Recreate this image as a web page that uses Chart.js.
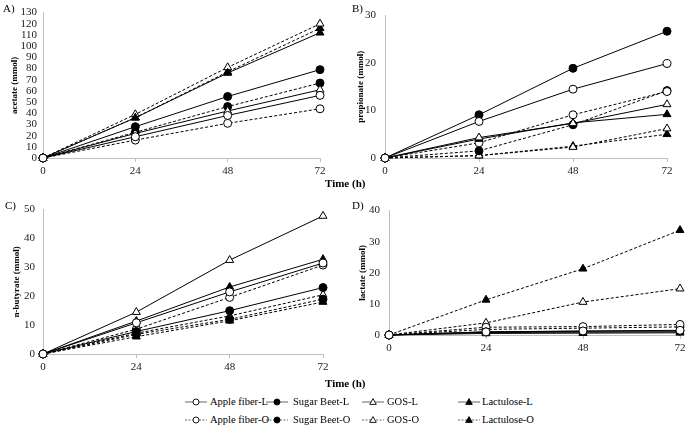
<!DOCTYPE html>
<html><head><meta charset="utf-8">
<script src="https://cdn.jsdelivr.net/npm/chart.js@4.4.1/dist/chart.umd.min.js"></script>
<style>
body{margin:0;background:#fff;width:689px;height:438px;position:relative;overflow:hidden;font-family:"Liberation Serif","Times New Roman",serif;color:#000;}
canvas{position:absolute;}
.lbl{position:absolute;font-size:11px;white-space:nowrap;line-height:11px;}
.tt{font-weight:bold;}
.leg{position:absolute;font-size:10.5px;white-space:nowrap;line-height:12px;}
svg{position:absolute;overflow:visible;}
</style></head><body>
<canvas id="cA" width="340" height="180" style="left:0;top:0"></canvas>
<canvas id="cB" width="334" height="180" style="left:355px;top:0"></canvas>
<canvas id="cC" width="340" height="180" style="left:0;top:195px"></canvas>
<canvas id="cD" width="334" height="160" style="left:355px;top:195px"></canvas>
<div class="lbl" style="left:3px;top:3px">A)</div>
<div class="lbl" style="left:352px;top:3px">B)</div>
<div class="lbl" style="left:5px;top:200px">C)</div>
<div class="lbl" style="left:352px;top:200px">D)</div>
<div class="lbl tt" style="left:325px;top:178px">Time (h)</div>
<div class="lbl tt" style="left:325px;top:378px">Time (h)</div>
<div id="legend"></div>
<script>
// ---- data ----
const times = [0, 24, 48, 72];
const seriesNames = ['Apple fiber-L','Sugar Beet-L','GOS-L','Lactulose-L','Apple fiber-O','Sugar Beet-O','GOS-O','Lactulose-O'];

// A) acetate (mmol)
const acetateAppleL   = [0, 19, 38, 56];
const acetateBeetL    = [0, 28, 55, 79];
const acetateGosL     = [0, 22, 42, 61];
const acetateLactL    = [0, 36, 76, 112];
const acetateAppleO   = [0, 16, 31, 44];
const acetateBeetO    = [0, 23, 46, 67];
const acetateGosO     = [0, 39, 81, 120];
const acetateLactO    = [0, 36, 77, 116];

// B) propionate (mmol)
const propAppleL = [0, 7.7, 14.5, 19.9];
const propBeetL  = [0, 9.1, 18.9, 26.7];
const propGosL   = [0, 4.3, 7.3, 11.3];
const propLactL  = [0, 4.0, 7.4, 9.2];
const propAppleO = [0, 3.2, 9.1, 14.0];
const propBeetO  = [0, 1.5, 7.0, 14.2];
const propGosO   = [0, 0.5, 2.3, 6.2];
const propLactO  = [0, 0.5, 2.5, 5.0];

// C) n-butyrate (mmol)
const butAppleL = [0, 10.8, 21.5, 31.5];
const butBeetL  = [0, 7.8, 15.0, 23.0];
const butGosL   = [0, 14.5, 32.5, 47.8];
const butLactL  = [0, 11.4, 23.2, 32.8];
const butAppleO = [0, 8.6, 19.6, 30.8];
const butBeetO  = [0, 6.8, 12.0, 19.0];
const butGosO   = [0, 7.2, 13.2, 20.5];
const butLactO  = [0, 6.0, 11.5, 18.0];

// D) lactate (mmol)
const lacAppleL = [0, 1.0, 1.3, 1.5];
const lacBeetL  = [0, 1.0, 1.2, 1.3];
const lacGosL   = [0, 0.8, 0.9, 1.0];
const lacLactL  = [0, 0.5, 0.6, 0.7];
const lacAppleO = [0, 2.5, 2.7, 3.4];
const lacBeetO  = [0, 1.8, 2.2, 2.6];
const lacGosO   = [0, 3.9, 10.6, 14.9];
const lacLactO  = [0, 11.3, 21.3, 33.7];

const xTicks = [0, 24, 48, 72];

// ---- styles ----
const FAM = "'Liberation Serif','Times New Roman',serif";
const AXIS = '#bfbfbf';
const styles = [
  {pt:'circle',   fill:'#fff', dash:[]},
  {pt:'circle',   fill:'#000', dash:[]},
  {pt:'triangle', fill:'#fff', dash:[]},
  {pt:'triangle', fill:'#000', dash:[]},
  {pt:'circle',   fill:'#fff', dash:[3,2]},
  {pt:'circle',   fill:'#000', dash:[3,2]},
  {pt:'triangle', fill:'#fff', dash:[3,2]},
  {pt:'triangle', fill:'#000', dash:[3,2]},
];

function makeChart(id, series, yMax, yTitle, g) {
  const datasets = series.map((vals, i) => ({
    label: seriesNames[i],
    data: vals.map((v, k) => ({x: times[k], y: v})),
    borderColor: '#000',
    borderWidth: 1,
    borderDash: styles[i].dash,
    backgroundColor: styles[i].fill,
    pointStyle: styles[i].pt,
    pointRadius: styles[i].pt === 'circle' ? 4 : 4.6,
    pointBorderColor: '#000',
    pointBorderWidth: 1,
    pointBackgroundColor: styles[i].fill,
    tension: 0,
    clip: false,
    fill: false
  }));
  new Chart(document.getElementById(id), {
    type: 'line',
    data: {datasets},
    options: {
      responsive: false,
      animation: false,
      devicePixelRatio: 1,
      layout: {padding: {top: g.padTop, right: g.padRight, left: 0, bottom: 0}},
      plugins: {legend: {display: false}, tooltip: {enabled: false}},
      scales: {
        x: {
          type: 'linear', min: 0, max: 72,
          afterBuildTicks: s => { s.ticks = xTicks.map(v => ({value: v})); },
          ticks: {font: {family: FAM, size: 11}, color: '#222', padding: 3, maxRotation: 0, autoSkip: false},
          grid: {display: true, drawOnChartArea: false, drawTicks: true, tickLength: 4, color: AXIS},
          border: {display: true, color: AXIS},
          afterFit: s => { s.height = g.xH; }
        },
        y: {
          min: 0, max: yMax,
          ticks: {stepSize: 10, font: {family: FAM, size: 11}, color: '#222', padding: g.tickPad, autoSkip: false},
          grid: {display: false, drawTicks: false},
          border: {display: true, color: AXIS},
          title: {display: true, text: yTitle, color: '#000',
                  font: {family: FAM, size: 9, weight: 'bold'},
                  padding: {top: g.titlePad, bottom: 0}},
          afterFit: s => { s.width = g.left; }
        }
      }
    }
  });
}

makeChart('cA', [acetateAppleL, acetateBeetL, acetateGosL, acetateLactL, acetateAppleO, acetateBeetO, acetateGosO, acetateLactO],
  130, 'acetate (mmol)', {left: 43, padTop: 8, padRight: 20, xH: 22, tickPad: 6, titlePad: 9.6});
makeChart('cB', [propAppleL, propBeetL, propGosL, propLactL, propAppleO, propBeetO, propGosO, propLactO],
  30, 'propionate (mmol)', {left: 30, padTop: 8, padRight: 22, xH: 22, tickPad: 9, titlePad: 0.1});
makeChart('cC', [butAppleL, butBeetL, butGosL, butLactL, butAppleO, butBeetO, butGosO, butLactO],
  50, 'n-butyrate (mmol)', {left: 43, padTop: 10, padRight: 17, xH: 21, tickPad: 8, titlePad: 11.6});
makeChart('cD', [lacAppleL, lacBeetL, lacGosL, lacLactL, lacAppleO, lacBeetO, lacGosO, lacLactO],
  40, 'lactate (mmol)', {left: 34, padTop: 11, padRight: 9, xH: 20, tickPad: 9, titlePad: 2.1});

// ---- legend ----
const legX = [{icon:185, text:210}, {icon:266, text:293}, {icon:362, text:387}, {icon:458, text:482}];
const legY = [402, 420];
const leg = document.getElementById('legend');
seriesNames.forEach((name, i) => {
  const row = i < 4 ? 0 : 1, col = i % 4, st = styles[i];
  const cy = legY[row], x0 = legX[col].icon;
  const w = 22;
  const dash = st.dash.length ? 'stroke-dasharray="2,1.5"' : '';
  let marker;
  if (st.pt === 'circle') {
    marker = `<circle cx="${w/2}" cy="5" r="3" fill="${st.fill}" stroke="#000" stroke-width="0.9"/>`;
  } else {
    marker = `<polygon points="${w/2},1.6 ${w/2+3.3},7.4 ${w/2-3.3},7.4" fill="${st.fill}" stroke="#000" stroke-width="0.9"/>`;
  }
  leg.insertAdjacentHTML('beforeend',
    `<svg width="${w}" height="10" style="left:${x0}px;top:${cy-5}px"><line x1="0" y1="5" x2="${w}" y2="5" stroke="#555" stroke-width="0.9" ${dash}/>${marker}</svg>` +
    `<div class="leg" style="left:${legX[col].text}px;top:${cy-6}px">${name}</div>`);
});
</script>
</body></html>
